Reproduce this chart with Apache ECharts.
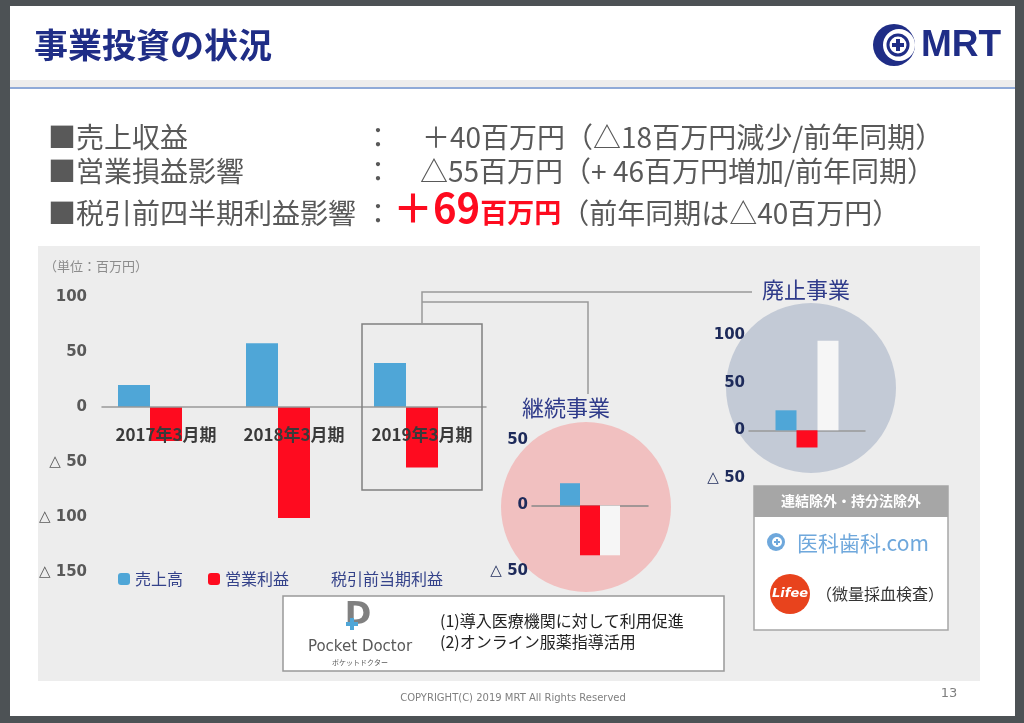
<!DOCTYPE html>
<html>
<head>
<meta charset="utf-8">
<script src="https://cdn.jsdelivr.net/npm/echarts@6/dist/echarts.min.js"></script>
<style>
  html, body { margin: 0; padding: 0; background: #4d5255; }
  #main { width: 1024px; height: 723px; }
</style>
</head>
<body>
<div id="main"></div>
<script>
// 連結（グラフ左）
const categories = ['2017年3月期', '2018年3月期', '2019年3月期'];
const sales = [20, 58, 40];
const opProfit = [-31, -101, -55];
const pretax = ['-', '-', '-'];

// 継続事業 / 廃止事業（2019年3月期）
const contSales = [17];
const contOp = [-38];
const contPretax = [-38];
const discSales = [21];
const discOp = [-18];
const discPretax = [94];

const BLUE = '#4fa6d7';
const RED = '#fe0b1f';
const WHITE = '#f6f6f6';
const NAVY = '#1f2d86';
const JP = '"Noto Sans CJK JP", sans-serif';

const fmtTri = v => (v < 0 ? '△ ' + (-v) : String(v));

let myChart = echarts.init(document.getElementById('main'));

function smallAxisLabel() {
    return { formatter: fmtTri, color: '#1d2a5a', fontWeight: 'bold', fontSize: 15, margin: 4, fontFamily: 'Verdana, "DejaVu Sans", sans-serif' };
}

function txt(text, x, y, size, color, extra, z) {
    return {
        type: 'text', z: z || 20,
        style: Object.assign({ text: text, x: x, y: y, font: size + 'px ' + JP, fill: color, textVerticalAlign: 'middle' }, extra || {})
    };
}

let option = {
    backgroundColor: '#4d5255',
    animation: false,
    textStyle: { fontFamily: JP },
    graphic: [
        // スライド
        { type: 'rect', z: -10, shape: { x: 10, y: 6, width: 1005, height: 710 }, style: { fill: '#ffffff' } },
        { type: 'rect', z: -9, shape: { x: 10, y: 80, width: 1005, height: 7 }, style: { fill: '#ededed' } },
        { type: 'rect', z: -9, shape: { x: 10, y: 87, width: 1005, height: 2 }, style: { fill: '#8faad8' } },
        { type: 'rect', z: -8, shape: { x: 38, y: 246, width: 942, height: 435 }, style: { fill: '#ededed' } },

        // タイトル
        txt('事業投資の状況', 34, 45, 34, NAVY, { font: 'bold 34px ' + JP }),

        // ロゴ MRT
        { type: 'circle', z: 10, shape: { cx: 894, cy: 45, r: 21 }, style: { fill: NAVY } },
        { type: 'circle', z: 11, shape: { cx: 899, cy: 45, r: 16 }, style: { fill: '#ffffff' } },
        { type: 'circle', z: 12, shape: { cx: 898, cy: 45, r: 10 }, style: { fill: '#ffffff', stroke: NAVY, lineWidth: 3 } },
        { type: 'rect', z: 13, shape: { x: 896, y: 39, width: 4, height: 12 }, style: { fill: NAVY } },
        { type: 'rect', z: 13, shape: { x: 892, y: 43, width: 12, height: 4 }, style: { fill: NAVY } },
        txt('MRT', 921, 46, 37, NAVY, { font: 'bold 37px "Liberation Sans Narrow", "Liberation Sans", sans-serif' }),

        // 箇条書き
        txt('■売上収益', 48, 137, 28, '#595959'),
        txt('■営業損益影響', 48, 171, 28, '#595959'),
        txt('■税引前四半期利益影響', 48, 213, 28, '#595959'),
        txt('：', 364, 137, 28, '#595959'),
        txt('：', 364, 171, 28, '#595959'),
        txt('：', 364, 213, 28, '#595959'),
        txt('＋40百万円（△18百万円減少/前年同期）', 422, 137, 28, '#595959'),
        txt('△55百万円（+ 46百万円増加/前年同期）', 420, 171, 28, '#595959'),
        {
            type: 'text', z: 20,
            style: {
                x: 393, y: 228, textVerticalAlign: 'bottom',
                text: '{big|＋69}{mid|百万円}{norm|（前年同期は△40百万円）}',
                rich: {
                    big: { fontSize: 40, fontWeight: 'bold', fill: RED, color: RED, fontFamily: JP, verticalAlign: 'bottom' },
                    mid: { fontSize: 27, fontWeight: 'bold', fill: RED, color: RED, fontFamily: JP, verticalAlign: 'bottom', padding: [0, 0, 2, 0] },
                    norm: { fontSize: 28, fill: '#595959', color: '#595959', fontFamily: JP, verticalAlign: 'bottom', padding: [0, 0, 1, 0] }
                }
            }
        },

        // 単位
        txt('（単位：百万円）', 44, 266, 13, '#8c8c8c'),

        // 2019年3月期の枠と引出線
        { type: 'rect', z: 10, shape: { x: 362, y: 324, width: 120, height: 166 }, style: { fill: 'none', stroke: '#808080', lineWidth: 1.5 } },
        { type: 'polyline', z: 10, shape: { points: [[422, 324], [422, 292], [752, 292]] }, style: { fill: 'none', stroke: '#999999', lineWidth: 1.5 } },
        { type: 'polyline', z: 10, shape: { points: [[422, 302], [588, 302], [588, 394]] }, style: { fill: 'none', stroke: '#999999', lineWidth: 1.5 } },

        // 円
        { type: 'circle', z: -5, shape: { cx: 586, cy: 507, r: 85 }, style: { fill: '#f1c0c0' } },
        { type: 'circle', z: -5, shape: { cx: 811, cy: 388, r: 85 }, style: { fill: '#c3cad6' } },
        txt('継続事業', 566, 408, 22, '#2f3b8a', { textAlign: 'center' }),
        txt('廃止事業', 762, 290, 22, '#2f3b8a'),

        // 連結除外・持分法除外
        { type: 'rect', z: 10, shape: { x: 754, y: 486, width: 194, height: 144 }, style: { fill: '#ffffff', stroke: '#a6a6a6', lineWidth: 1.5 } },
        { type: 'rect', z: 11, shape: { x: 754, y: 486, width: 194, height: 31 }, style: { fill: '#a6a6a6' } },
        txt('連結除外・持分法除外', 851, 501, 14, '#ffffff', { textAlign: 'center', font: 'bold 14px ' + JP }),
        { type: 'circle', z: 12, shape: { cx: 776, cy: 542, r: 9 }, style: { fill: '#6fa8dc' } },
        { type: 'circle', z: 13, shape: { cx: 777, cy: 542, r: 5 }, style: { fill: '#ffffff' } },
        { type: 'rect', z: 14, shape: { x: 776, y: 539, width: 2, height: 6 }, style: { fill: '#6fa8dc' } },
        { type: 'rect', z: 14, shape: { x: 774, y: 541, width: 6, height: 2 }, style: { fill: '#6fa8dc' } },
        txt('医科歯科.com', 797, 543, 21, '#6fa8dc'),
        { type: 'circle', z: 12, shape: { cx: 790, cy: 594, r: 20 }, style: { fill: '#e8431d' } },
        txt('Lifee', 790, 594, 13, '#ffffff', { textAlign: 'center', font: 'italic bold 13px "DejaVu Sans", sans-serif' }),
        txt('（微量採血検査）', 816, 594, 16, '#333333'),

        // Pocket Doctor
        { type: 'rect', z: 10, shape: { x: 283, y: 596, width: 441, height: 75 }, style: { fill: '#ffffff', stroke: '#999999', lineWidth: 1.5 } },
        txt('D', 358, 616, 32, '#808080', { textAlign: 'center', font: 'bold 32px "DejaVu Sans", sans-serif' }),
        { type: 'rect', z: 22, shape: { x: 350, y: 618, width: 4, height: 12 }, style: { fill: BLUE } },
        { type: 'rect', z: 22, shape: { x: 346, y: 622, width: 12, height: 4 }, style: { fill: BLUE } },
        txt('Pocket Doctor', 360, 647, 15, '#595959', { textAlign: 'center', font: '15px "DejaVu Sans", sans-serif' }),
        txt('ポケットドクター', 360, 662, 7, '#595959', { textAlign: 'center' }),
        txt('(1)導入医療機関に対して利用促進', 440, 621, 16, '#222222'),
        txt('(2)オンライン服薬指導活用', 440, 642, 16, '#222222'),

        // フッター
        txt('COPYRIGHT(C) 2019 MRT All Rights Reserved', 513, 698, 10, '#7f7f7f', { textAlign: 'center', font: '10px "DejaVu Sans", sans-serif' }),
        txt('13', 949, 694, 13, '#7f7f7f', { textAlign: 'center', font: '13px "DejaVu Sans", sans-serif' })
    ],
    legend: {
        left: 113, top: 566,
        itemWidth: 12, itemHeight: 12, itemGap: 25,
        data: ['売上高', '営業利益', '税引前当期利益'],
        textStyle: { color: '#34428a', fontSize: 16, fontFamily: JP },
        selectedMode: false
    },
    grid: [
        { left: 102, width: 384, top: 297, height: 275 },
        { left: 532, width: 116, top: 440, height: 131 },
        { left: 749, width: 116, top: 335, height: 143 }
    ],
    xAxis: [
        {
            gridIndex: 0, type: 'category', data: categories, z: 5,
            axisLine: { onZero: true, lineStyle: { color: '#999999', width: 1.5 } },
            axisTick: { show: false },
            axisLabel: { color: '#3a3a3a', fontWeight: 'bold', fontSize: 17, margin: -146, interval: 0, fontFamily: JP }
        },
        {
            gridIndex: 1, type: 'category', data: [''],
            axisLine: { onZero: true, lineStyle: { color: '#888888', width: 1.5 } },
            axisTick: { show: false }, axisLabel: { show: false }
        },
        {
            gridIndex: 2, type: 'category', data: [''],
            axisLine: { onZero: true, lineStyle: { color: '#999999', width: 1.5 } },
            axisTick: { show: false }, axisLabel: { show: false }
        }
    ],
    yAxis: [
        {
            gridIndex: 0, type: 'value', min: -150, max: 100, interval: 50,
            axisLine: { show: false }, axisTick: { show: false }, splitLine: { show: false },
            axisLabel: { formatter: fmtTri, color: '#595959', fontWeight: 'bold', fontSize: 15, margin: 15, fontFamily: 'Verdana, "DejaVu Sans", sans-serif' }
        },
        {
            gridIndex: 1, type: 'value', min: -50, max: 50, interval: 50,
            axisLine: { show: false }, axisTick: { show: false }, splitLine: { show: false },
            axisLabel: smallAxisLabel()
        },
        {
            gridIndex: 2, type: 'value', min: -50, max: 100, interval: 50,
            axisLine: { show: false }, axisTick: { show: false }, splitLine: { show: false },
            axisLabel: smallAxisLabel()
        }
    ],
    series: [
        { name: '売上高', type: 'bar', xAxisIndex: 0, yAxisIndex: 0, data: sales, barWidth: 32, barGap: '0%', itemStyle: { color: BLUE } },
        { name: '営業利益', type: 'bar', xAxisIndex: 0, yAxisIndex: 0, data: opProfit, barWidth: 32, barGap: '0%', itemStyle: { color: RED } },
        { name: '税引前当期利益', type: 'bar', xAxisIndex: 0, yAxisIndex: 0, data: pretax, barWidth: 32, barGap: '0%', itemStyle: { color: 'rgba(0,0,0,0)' } },

        { name: '継続_売上高', type: 'bar', xAxisIndex: 1, yAxisIndex: 1, data: contSales, barWidth: 20, barGap: '0%', itemStyle: { color: BLUE } },
        { name: '継続_営業利益', type: 'bar', xAxisIndex: 1, yAxisIndex: 1, data: contOp, barWidth: 20, barGap: '0%', itemStyle: { color: RED } },
        { name: '継続_税引前', type: 'bar', xAxisIndex: 1, yAxisIndex: 1, data: contPretax, barWidth: 20, barGap: '0%', itemStyle: { color: WHITE } },

        { name: '廃止_売上高', type: 'bar', xAxisIndex: 2, yAxisIndex: 2, data: discSales, barWidth: 21, barGap: '0%', itemStyle: { color: BLUE } },
        { name: '廃止_営業利益', type: 'bar', xAxisIndex: 2, yAxisIndex: 2, data: discOp, barWidth: 21, barGap: '0%', itemStyle: { color: RED } },
        { name: '廃止_税引前', type: 'bar', xAxisIndex: 2, yAxisIndex: 2, data: discPretax, barWidth: 21, barGap: '0%', itemStyle: { color: WHITE } }
    ]
};

option && myChart.setOption(option);
</script>
</body>
</html>
